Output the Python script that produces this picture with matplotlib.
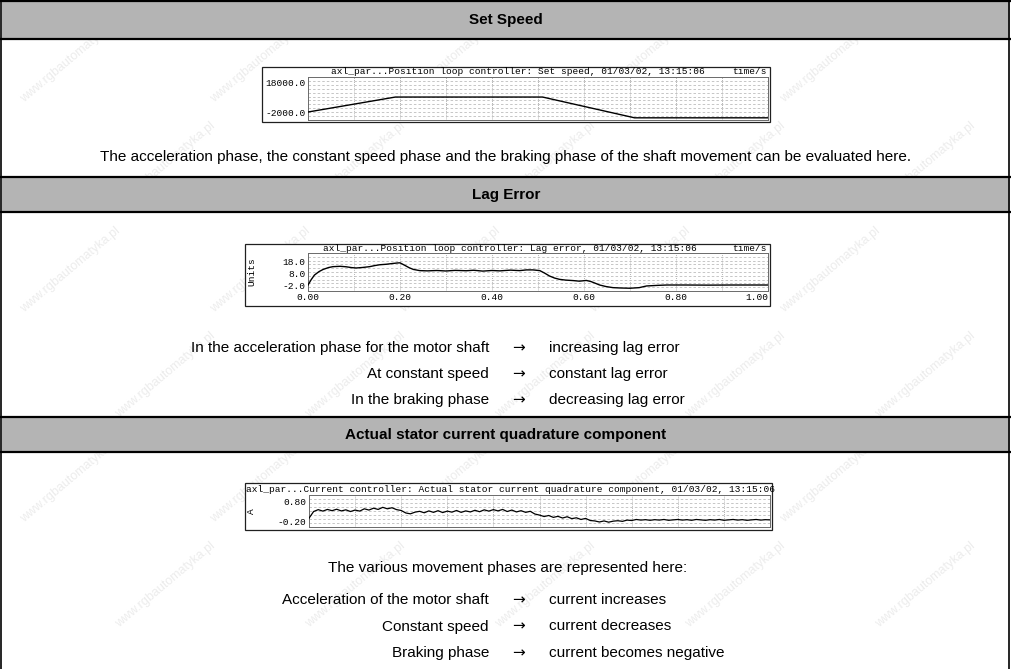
import matplotlib.pyplot as plt
from matplotlib.patches import Rectangle
import numpy as np

W, H = 1011, 669

# set speed trace (time/s, speed)
speed_t = [0.0, 0.19, 0.51, 0.71, 1.0]
speed_v = [-2000.0, 8300.0, 8300.0, -6000.0, -6000.0]
speed_ticks = [18000.0, -2000.0]

# lag error trace (time/s, units)
lag_t = [0.0, 0.007, 0.014, 0.024, 0.033, 0.045, 0.054, 0.07, 0.083, 0.095,
         0.105, 0.118, 0.134, 0.145, 0.156, 0.17, 0.185, 0.195, 0.2, 0.21,
         0.22, 0.229, 0.243, 0.26, 0.28, 0.3, 0.32, 0.344, 0.36, 0.38,
         0.4, 0.417, 0.44, 0.46, 0.475, 0.489, 0.504, 0.515, 0.525, 0.536,
         0.547, 0.56, 0.576, 0.59, 0.605, 0.615, 0.625, 0.634, 0.648, 0.663,
         0.68, 0.7, 0.72, 0.736, 0.76, 0.78, 0.82, 0.87, 0.92, 0.96, 1.0]
lag_v = [-2.0, 2.5, 6.3, 9.2, 11.0, 12.6, 13.3, 13.6, 13.2, 12.5,
         12.2, 12.6, 13.3, 14.2, 14.9, 15.3, 16.0, 16.4, 16.5, 14.5,
         12.4, 11.0, 10.0, 9.8, 10.1, 9.7, 10.2, 9.9, 10.3, 9.6,
         10.1, 9.8, 10.4, 10.0, 10.6, 10.6, 10.0, 7.8, 5.5, 3.8,
         2.7, 2.1, 1.7, 1.2, 1.8, 0.9, -0.6, -2.0, -3.3, -4.2,
         -4.5, -4.7, -4.2, -2.8, -2.3, -2.0, -2.0, -2.1, -2.0, -2.0, -2.0]
lag_ticks = [18.0, 8.0, -2.0]
time_ticks = [0.0, 0.2, 0.4, 0.6, 0.8, 1.0]

# stator current, sampled every 10 ms
cur_t = np.round(np.arange(101) * 0.01, 2)
cur_v = [-0.02, 0.30, 0.39, 0.32, 0.40, 0.34, 0.41, 0.33, 0.38, 0.30,
         0.37, 0.32, 0.43, 0.37, 0.46, 0.40, 0.50, 0.43, 0.48, 0.39,
         0.35, 0.23, 0.19, 0.27, 0.31, 0.24, 0.33, 0.26, 0.34, 0.25,
         0.32, 0.27, 0.35, 0.26, 0.33, 0.28, 0.36, 0.29, 0.38, 0.32,
         0.39, 0.33, 0.40, 0.30, 0.37, 0.28, 0.34, 0.26, 0.31, 0.18,
         0.13, 0.06, 0.11, 0.02, 0.07, -0.01, 0.05, -0.04, 0.00, -0.08,
         -0.03, -0.13, -0.15, -0.20, -0.15, -0.21, -0.16, -0.14, -0.17, -0.11,
         -0.13, -0.08, -0.11, -0.09, -0.12, -0.09, -0.11, -0.08, -0.12, -0.10,
         -0.08, -0.11, -0.09, -0.12, -0.08, -0.10, -0.12, -0.09, -0.11, -0.08,
         -0.12, -0.10, -0.08, -0.11, -0.09, -0.12, -0.10, -0.08, -0.11, -0.09,
         -0.10]
cur_ticks = [0.8, -0.2]

headers = ['Set Speed', 'Lag Error', 'Actual stator current quadrature component']
speed_note = ('The acceleration phase, the constant speed phase and the braking '
              'phase of the shaft movement can be evaluated here.')
lag_left = ['In the acceleration phase for the motor shaft', 'At constant speed',
            'In the braking phase']
lag_right = ['increasing lag error', 'constant lag error', 'decreasing lag error']
cur_note = 'The various movement phases are represented here:'
cur_left = ['Acceleration of the motor shaft', 'Constant speed', 'Braking phase']
cur_right = ['current increases', 'current decreases', 'current becomes negative']

SANS = ['Liberation Sans', 'DejaVu Sans']
plt.rcParams['font.family'] = ['Liberation Mono', 'DejaVu Sans Mono']
MONO_SIZE = 6.8
TXT_SIZE = 11

fig = plt.figure(figsize=(W / 100, H / 100), dpi=100)
page = fig.add_axes([0, 0, 1, 1])
page.set_xlim(0, W)
page.set_ylim(H, 0)
page.axis('off')

# faint watermark, kept inside the page
for row, wy in enumerate([60, 165, 270, 375, 480, 585]):
    xs = [70, 260, 450, 640, 830] if row % 2 == 0 else [165, 355, 545, 735, 925]
    for wx in xs:
        page.text(wx, wy, 'www.rgbautomatyka.pl', family=SANS, fontsize=9,
                  rotation=40, color='#ececec', ha='center', va='center', zorder=0)

# table frame and header bands
bands = [(1, 39), (177, 212), (417, 452)]
header_y = [20, 195, 435]
for (y0, y1), hy, label in zip(bands, header_y, headers):
    page.add_patch(Rectangle((1.5, y0), W - 3, y1 - y0, fc='#b4b4b4', ec='none', zorder=1))
    page.hlines([y0, y1], 0, W, colors='black', lw=1.6, zorder=2)
    page.text(506, hy, label, family=SANS, fontsize=TXT_SIZE, fontweight='bold',
              ha='center', va='center', zorder=3)
page.vlines([1.2, W - 2], 0, H, colors='black', lw=1.2, zorder=2)


def arrow_rows(left, right, y_first, step):
    for i, (a, b) in enumerate(zip(left, right)):
        y = y_first + i * step
        page.text(489, y, a, family=SANS, fontsize=TXT_SIZE, ha='right', va='center')
        page.text(519, y - 1, r'$\rightarrow$', fontsize=TXT_SIZE,
                  ha='center', va='center')
        page.text(549, y, b, family=SANS, fontsize=TXT_SIZE, ha='left', va='center')


# body text
page.text(505, 157, speed_note, family=SANS, fontsize=TXT_SIZE, ha='center', va='center')
arrow_rows(lag_left, lag_right, 348, 26)
page.text(508, 568, cur_note, family=SANS, fontsize=TXT_SIZE, ha='center', va='center')
arrow_rows(cur_left, cur_right, 600, 26.5)


def px_axes(x0, y0, x1, y1):
    return fig.add_axes([x0 / W, 1 - y1 / H, (x1 - x0) / W, (y1 - y0) / H])


def scope(box, plot, title, title_y, n_rows, time_label=True):
    bx0, by0, bx1, by1 = box
    page.add_patch(Rectangle((bx0, by0), bx1 - bx0, by1 - by0, fill=False,
                             ec='#202020', lw=0.9, zorder=4))
    page.add_patch(Rectangle((bx0 + 0.5, by0 + 0.5), bx1 - bx0 - 1, by1 - by0 - 1,
                             fc='white', ec='none', zorder=3))
    page.text((bx0 + bx1) / 2 + 2, title_y, title, fontsize=MONO_SIZE,
              ha='center', va='center', zorder=5)
    if time_label:
        page.text(bx1 - 3, title_y, 'time/s', fontsize=MONO_SIZE,
                  ha='right', va='center', zorder=5)
    ax = px_axes(*plot)
    ax.set_xlim(0, 1)
    for s in ax.spines.values():
        s.set_color('#6a6a6a')
        s.set_linewidth(0.7)
    ax.vlines(np.arange(1, 10) * 0.1, 0, 1, transform=ax.get_xaxis_transform(),
              colors='#9a9a9a', lw=0.6, linestyles=(0, (1, 1.5)), zorder=1)
    rows = np.linspace(0, 1, n_rows + 2)[1:-1]
    ax.hlines(rows, 0, 1, transform=ax.transAxes, colors='#bdbdbd', lw=0.6,
              linestyles=(0, (3, 2.5)), zorder=1)
    ax.tick_params(length=0, pad=2, labelsize=MONO_SIZE)
    ax.set_xticks([])
    return ax


# Set speed
ax1 = scope((262, 67, 770, 122), (308, 77, 768, 120),
            'axl_par...Position loop controller: Set speed, 01/03/02, 13:15:06', 72, 10)
ax1.plot(speed_t, speed_v, color='black', lw=1.0, zorder=3)
ax1.set_ylim(-7500, 22100)
ax1.set_yticks(speed_ticks)
ax1.set_yticklabels([f'{v:.1f}' for v in speed_ticks])

# Lag error
ax2 = scope((245, 244, 770, 306), (308, 253, 768, 291),
            'axl_par...Position loop controller: Lag error, 01/03/02, 13:15:06', 248.5, 9)
ax2.plot(lag_t, lag_v, color='black', lw=1.0, zorder=3)
ax2.set_ylim(-7, 24.7)
ax2.set_yticks(lag_ticks)
ax2.set_yticklabels([f'{v:.1f}' for v in lag_ticks])
ax2.set_xticks(time_ticks)
ax2.set_xticklabels([f'{v:.2f}' for v in time_ticks])
ax2.tick_params(axis='x', pad=1.5)
ax2.get_xticklabels()[-1].set_ha('right')
page.text(252, 272, 'Units', fontsize=MONO_SIZE, rotation=90, ha='center',
          va='center', zorder=5)

# Stator current
ax3 = scope((245, 483, 772, 530), (309, 495, 770, 527),
            'axl_par...Current controller: Actual stator current quadrature component, '
            '01/03/02, 13:15:06', 489, 7, time_label=False)
ax3.plot(cur_t, cur_v, color='black', lw=0.9, zorder=3)
ax3.set_ylim(-0.44, 1.09)
ax3.set_yticks(cur_ticks)
ax3.set_yticklabels([f'{v:.2f}' for v in cur_ticks])
page.text(252, 511, 'A', fontsize=MONO_SIZE, rotation=90, ha='center',
          va='center', zorder=5)

fig.savefig('out.png', dpi=100)
